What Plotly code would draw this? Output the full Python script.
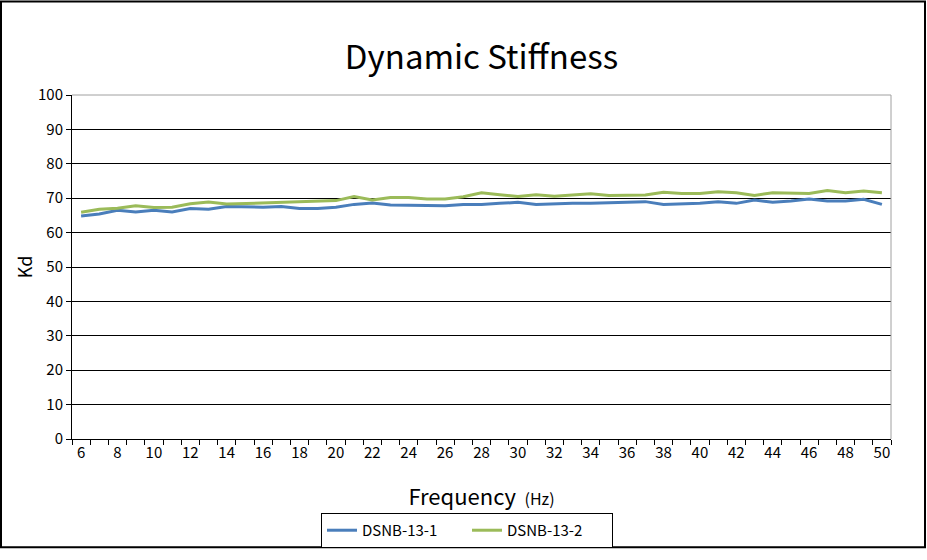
"""Dynamic stiffness chart (Excel-style line chart) recreated with Plotly."""

import plotly.graph_objects as go

FONT = "Noto Sans CJK KR, DejaVu Sans, sans-serif"
BLUE = "#4a7ebb"
GREEN = "#9bbb59"

freq = list(range(6, 51))
dsnb_13_1 = [
    64.8, 65.4, 66.5, 66.0, 66.5, 66.0, 67.0, 66.8, 67.6, 67.4,
    67.4, 67.6, 67.0, 67.0, 67.4, 68.2, 68.6, 68.0, 68.0, 67.8,
    67.8, 68.2, 68.2, 68.5, 68.8, 68.2, 68.4, 68.5, 68.5, 68.6,
    68.8, 69.0, 68.2, 68.4, 68.5, 69.0, 68.5, 69.5, 68.8, 69.2,
    69.8, 69.2, 69.2, 69.7, 68.2,
]
dsnb_13_2 = [
    65.9, 66.8, 67.1, 67.8, 67.3, 67.4, 68.4, 68.9, 68.3, 68.5,
    68.7, 68.8, 69.0, 69.2, 69.3, 70.5, 69.5, 70.2, 70.2, 69.8,
    69.8, 70.4, 71.6, 71.0, 70.5, 71.0, 70.6, 70.9, 71.3, 70.8,
    70.8, 70.9, 71.7, 71.4, 71.4, 71.9, 71.6, 70.8, 71.6, 71.4,
    71.4, 72.2, 71.6, 72.1, 71.6,
]
series = [("DSNB-13-1", dsnb_13_1, BLUE), ("DSNB-13-2", dsnb_13_2, GREEN)]
x_ticks = list(range(6, 51, 2))
y_ticks = list(range(0, 101, 10))

fig = go.Figure()
for name, vals, color in series:
    fig.add_trace(go.Scatter(
        x=freq, y=vals, mode="lines", name=name,
        line=dict(color=color, width=3),
    ))

# plot area: x 72..891, y 95..441 in a 927x560 page
W, H = 927, 560
L, R, T, B = 72, 36, 95, 119
pw, ph = W - L - R, H - T - B

fig.update_layout(
    width=W, height=H,
    margin=dict(l=L, r=R, t=T, b=B),
    paper_bgcolor="white", plot_bgcolor="white",
    font=dict(family=FONT, color="black", size=14),
    title=dict(
        text="Dynamic Stiffness", xref="paper", x=0.5, xanchor="center",
        y=1 - 57 / H, yanchor="middle",
        font=dict(size=33, family=FONT, color="black"),
    ),
    showlegend=True,
    legend=dict(
        orientation="h", x=(467 - L) / pw, xanchor="center",
        y=-(533 - 441) / ph, yanchor="middle",
        bordercolor="black", borderwidth=1, bgcolor="white",
        font=dict(size=15, family=FONT),
        itemwidth=30, entrywidthmode="pixels", entrywidth=100,
    ),
    xaxis=dict(
        range=[5.5, 50.5], tickvals=x_ticks, ticks="",
        showgrid=False, zeroline=False,
        showline=True, linecolor="black", linewidth=1,
        tickfont=dict(size=15),
        minor=dict(tick0=5.5, dtick=1, ticks="outside", ticklen=5,
                   tickcolor="black", showgrid=False),
        title=dict(
            text="Frequency <span style='font-size:16px'> (Hz)</span>",
            font=dict(size=22), standoff=28,
        ),
    ),
    yaxis=dict(
        range=[0, 100], tickvals=y_ticks, ticks="outside", ticklen=5,
        tickcolor="black",
        showgrid=True, gridcolor="black", gridwidth=1, zeroline=False,
        showline=True, linecolor="black", linewidth=1,
        tickfont=dict(size=15),
        title=dict(text="Kd", font=dict(size=18), standoff=0),
    ),
)

# light grey plot-area frame (top and right)
fig.add_shape(type="line", xref="paper", yref="paper",
              x0=0, x1=1, y0=1, y1=1, line=dict(color="#a0a0a0", width=1))
fig.add_shape(type="line", xref="paper", yref="paper",
              x0=1, x1=1, y0=0, y1=1, line=dict(color="#a0a0a0", width=1))
# outer chart border
fig.add_shape(type="rect", xref="paper", yref="paper",
              x0=-(L - 1) / pw, x1=1 + (R - 2) / pw,
              y0=-(550 - 441) / ph, y1=1 + (T - 1) / ph,
              line=dict(color="black", width=2), layer="below")

# drop the browser's default body margin so the figure sits at (0, 0)
fig.write_html(
    "out.html",
    config={"displayModeBar": False},
    post_script="document.body.style.margin='0';",
)
